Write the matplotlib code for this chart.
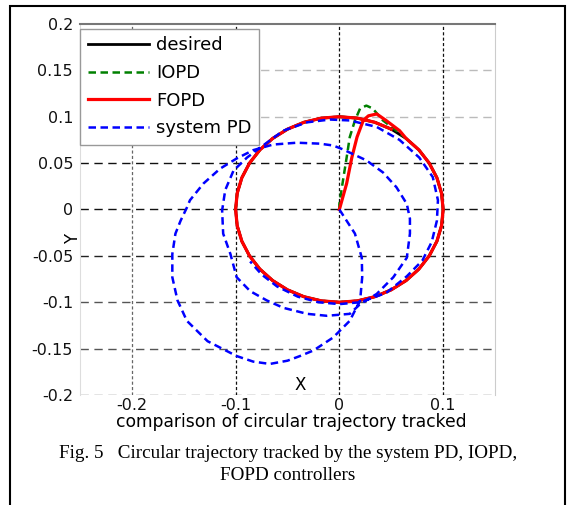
import matplotlib
matplotlib.use('Agg')
import matplotlib.pyplot as plt
from matplotlib.patches import Rectangle

plt.rcParams['font.family'] = ['DejaVu Sans']
plt.rcParams['axes.unicode_minus'] = False

# desired circle, read clockwise starting near the top right
circle_x = [0.05, 0.0643, 0.0766, 0.0866, 0.094, 0.0985, 0.1, 0.0985, 0.094, 0.0866, 0.0766,
            0.0643, 0.05, 0.0342, 0.0174, 0.0, -0.0174, -0.0342, -0.05, -0.0643, -0.0766,
            -0.0866, -0.094, -0.0985, -0.1, -0.0985, -0.094, -0.0866, -0.0766, -0.0643,
            -0.05, -0.0342, -0.0174, 0.0, 0.0174, 0.0342, 0.05]
circle_y = [0.0866, 0.0766, 0.0643, 0.05, 0.0342, 0.0174, 0.0, -0.0174, -0.0342, -0.05, -0.0643,
            -0.0766, -0.0866, -0.094, -0.0985, -0.1, -0.0985, -0.094, -0.0866, -0.0766, -0.0643,
            -0.05, -0.0342, -0.0174, 0.0, 0.0174, 0.0342, 0.05, 0.0643, 0.0766,
            0.0866, 0.094, 0.0985, 0.1, 0.0985, 0.094, 0.0866]

# start of the IOPD and FOPD runs before they settle on the circle
iopd_head_x = [0.0, 0.0, 0.004, 0.007, 0.01, 0.015, 0.02, 0.026, 0.032, 0.042, 0.055]
iopd_head_y = [0.0, 0.006, 0.035, 0.056, 0.078, 0.096, 0.109, 0.112, 0.109, 0.096, 0.085]
fopd_head_x = [0.0, 0.007, 0.012, 0.017, 0.023, 0.028, 0.036, 0.045, 0.058]
fopd_head_y = [0.0, 0.028, 0.056, 0.078, 0.096, 0.101, 0.103, 0.096, 0.085]

iopd_x = iopd_head_x + circle_x[1:]
iopd_y = iopd_head_y + circle_y[1:]
fopd_x = fopd_head_x + circle_x[1:]
fopd_y = fopd_head_y + circle_y[1:]

# system PD spirals in over three loops
pd_x = [0.0, 0.015, 0.0216, 0.022, 0.02, 0.01, -0.006, -0.025, -0.038, -0.05, -0.067, -0.083,
        -0.099, -0.127, -0.147, -0.156, -0.161, -0.161, -0.158, -0.153, -0.147, -0.144,
        -0.131, -0.115, -0.099, -0.083, -0.064, -0.041, -0.019, -0.006, 0.003, 0.026,
        0.042, 0.055, 0.065, 0.068, 0.068, 0.065, 0.052, 0.036, 0.02, 0.01, -0.012, -0.031,
        -0.054, -0.07, -0.086, -0.099, -0.105, -0.112, -0.113, -0.110, -0.102, -0.089,
        -0.076, -0.054, -0.031, -0.009, 0.010, 0.036, 0.058, 0.077, 0.090, 0.095, 0.094,
        0.089, 0.080, 0.065, 0.045, 0.02, 0.0, -0.02, -0.04, -0.06, -0.075, -0.086]
pd_y = [0.0, -0.026, -0.052, -0.073, -0.098, -0.12, -0.138, -0.152, -0.158, -0.163, -0.1665,
        -0.164, -0.158, -0.142, -0.12, -0.098, -0.073, -0.048, -0.026, -0.012, 0.002, 0.01,
        0.028, 0.044, 0.055, 0.064, 0.070, 0.072, 0.071, 0.069, 0.065, 0.053, 0.040, 0.024,
        0.006, -0.01, -0.026, -0.052, -0.073, -0.091, -0.102, -0.1125, -0.1146, -0.1125,
        -0.106, -0.098, -0.088, -0.073, -0.048, -0.026, -0.001, 0.021, 0.042, 0.056, 0.067,
        0.085, 0.094, 0.097, 0.096, 0.089, 0.075, 0.056, 0.035, 0.01, -0.012, -0.035,
        -0.055, -0.072, -0.09, -0.1, -0.102, -0.1, -0.094, -0.083, -0.07, -0.056]

xticks = [-0.2, -0.1, 0.0, 0.1]
xtick_labels = ['-0.2', '-0.1', '0', '0.1']
yticks = [-0.2, -0.15, -0.1, -0.05, 0.0, 0.05, 0.1, 0.15, 0.2]
ytick_labels = ['-0.2', '-0.15', '-0.1', '-0.05', '0', '0.05', '0.1', '0.15', '0.2']

fig = plt.figure(figsize=(5.68, 5.05), dpi=100)
ax = fig.add_axes([0.1408, 0.2178, 0.7307, 0.7347])

# grid drawn by hand so each line can carry its own shade
hgrid_colors = {-0.2: '#777777', -0.15: '#555555', -0.1: '#555555', -0.05: '#222222',
                0.0: '#111111', 0.05: '#111111', 0.1: '#bbbbbb', 0.15: '#bbbbbb'}
for yv, c in hgrid_colors.items():
    ax.axhline(yv, color=c, lw=1.0, dashes=(6, 4), zorder=0.5)
for xv in xticks:
    c = '#666666' if xv == -0.2 else '#111111'
    ax.axvline(xv, color=c, lw=0.9, dashes=(2.5, 1.8), zorder=0.5)

ax.plot(circle_x, circle_y, color='black', lw=2.0, label='desired')
ax.plot(iopd_x, iopd_y, color='#008000', lw=1.8, dashes=(3, 1.8), label='IOPD')
ax.plot(fopd_x, fopd_y, color='red', lw=2.3, label='FOPD')
ax.plot(pd_x, pd_y, color='blue', lw=1.8, dashes=(3, 1.8), label='system PD')

ax.set_xlim(-0.25, 0.15)
ax.set_ylim(-0.2, 0.2)
ax.set_xticks(xticks)
ax.set_xticklabels(xtick_labels)
ax.set_yticks(yticks)
ax.set_yticklabels(ytick_labels)
ax.tick_params(length=0, labelsize=11.5, colors='#111111')
ax.tick_params(axis='x', pad=2)
ax.tick_params(axis='y', pad=5)

ax.spines['top'].set_color('#777777')
ax.spines['top'].set_linewidth(1.5)
ax.spines['right'].set_color('#cccccc')
ax.spines['left'].set_color('#dddddd')
ax.spines['bottom'].set_visible(False)

ax.set_ylabel('Y', fontsize=12)
ax.yaxis.set_label_coords(0.006, 0.42)
ax.text(0.53, 0.028, 'X', transform=ax.transAxes, fontsize=12, ha='center', va='center')

leg = ax.legend(loc='upper left', bbox_to_anchor=(0.0, 0.987), borderaxespad=0,
                fontsize=13, fancybox=False, framealpha=1, edgecolor='#999999',
                handlelength=3.4, handletextpad=0.4, labelspacing=0.53, borderpad=0.42)
leg.get_frame().set_linewidth(1.0)

fig.text(291 / 568, 1 - 427 / 505, 'comparison of circular trajectory tracked',
         fontsize=12.3, ha='center', va='baseline')
fig.text(288 / 568, 1 - 454 / 505,
         'Fig. 5   Circular trajectory tracked by the system PD, IOPD,',
         family='Liberation Serif', fontsize=13.8, ha='center', va='center')
fig.text(288 / 568, 1 - 476 / 505, 'FOPD controllers',
         family='Liberation Serif', fontsize=13.8, ha='center', va='center')

fig.patches.append(Rectangle((10 / 568, -0.02), 555 / 568, 1.014 - 3 / 505,
                             transform=fig.transFigure, fill=False,
                             edgecolor='black', lw=1.5))

fig.savefig('out.png', dpi=100)
